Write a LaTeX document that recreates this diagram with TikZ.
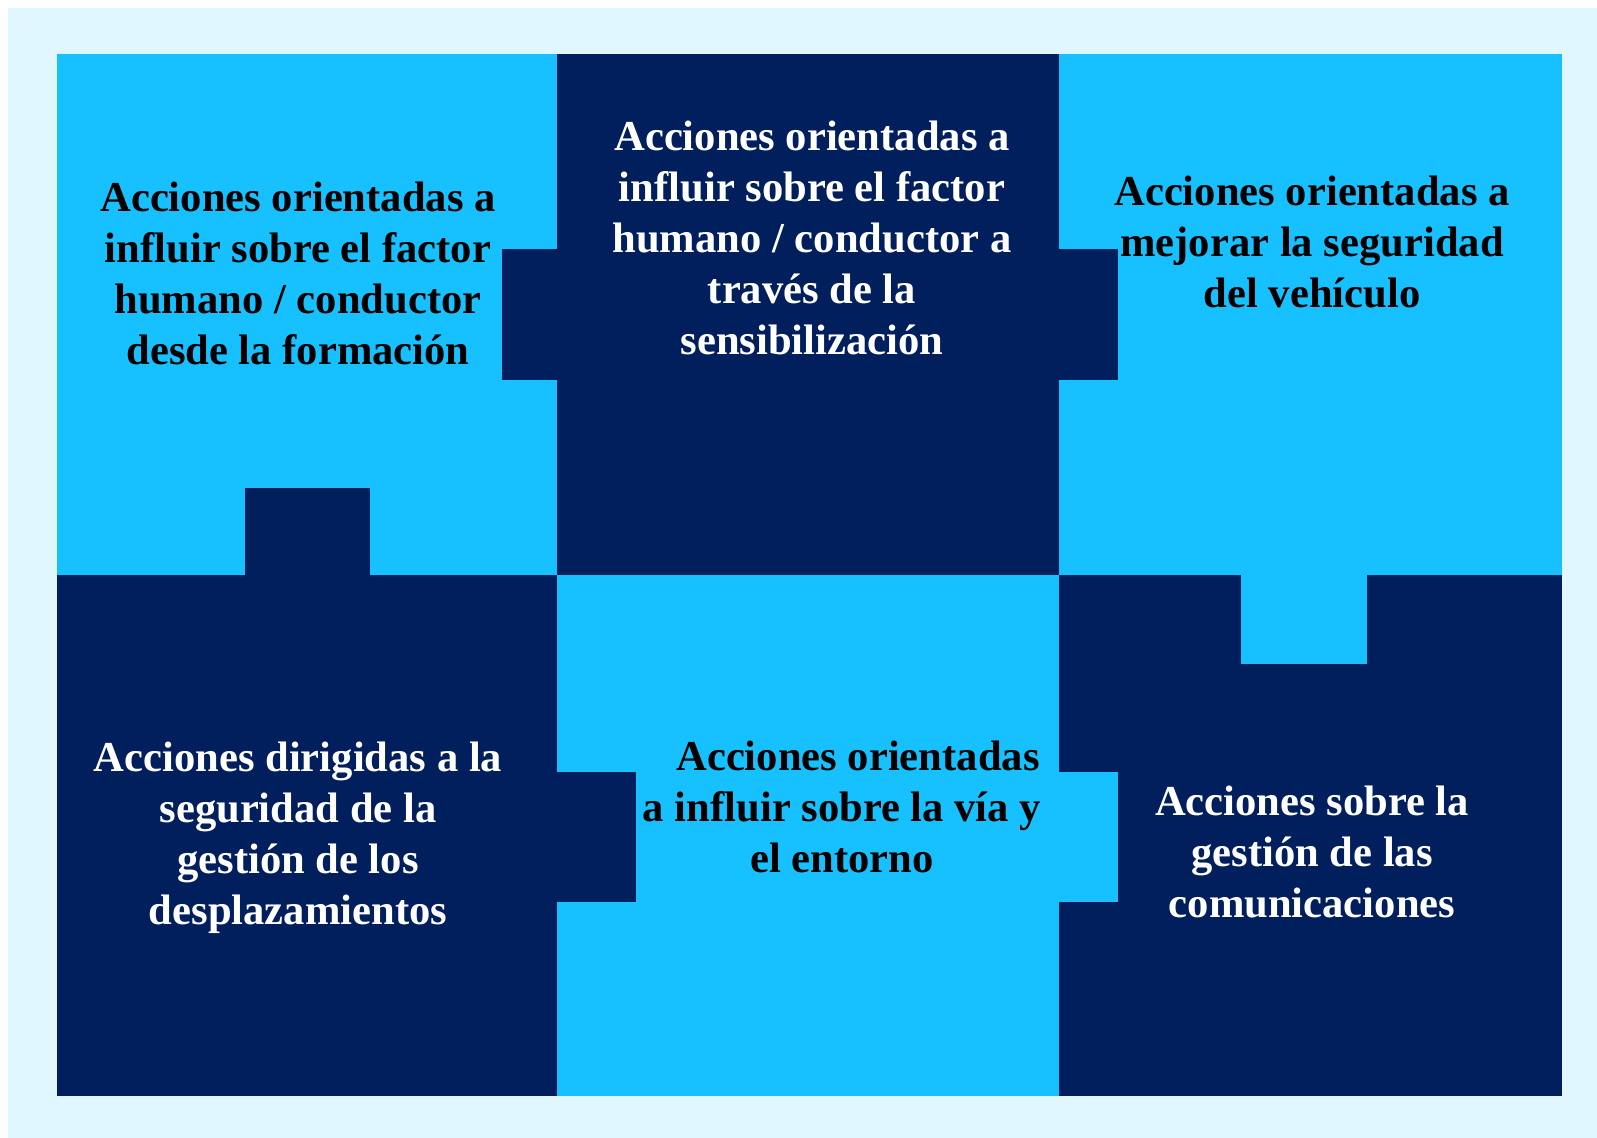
\documentclass[tikz,border=0pt]{standalone}
\usepackage{fontspec}
\setmainfont{Liberation Serif}
\usepackage{tikz}
\definecolor{BackLight}{HTML}{E0F7FF}
\definecolor{PieceLight}{HTML}{17C1FF}
\definecolor{PieceDark}{HTML}{001F5C}

\begin{document}
\begin{tikzpicture}[x=0.5pt,y=-0.5pt,
          every node/.style={font=\fontsize{21.3}{25.5}\selectfont\bfseries,
            align=center, inner sep=0pt},
          onlight/.style={text=black},
          ondark/.style={text=white}]
        \useasboundingbox (0,0) rectangle (1597,1138);
        \fill[BackLight] (8,8) rectangle (1597,1138);
        % piezas
        \fill[PieceLight] (57,54) rectangle (557,575);
        \fill[PieceDark] (557,54) rectangle (1059,575);
        \fill[PieceLight] (1059,54) rectangle (1562,575);
        \fill[PieceDark] (57,575) rectangle (557,1096);
        \fill[PieceLight] (557,575) rectangle (1059,1096);
        \fill[PieceDark] (1059,575) rectangle (1562,1096);
        % pestañas
        \fill[PieceDark] (245,488) rectangle (370,575);
        \fill[PieceDark] (502,249) rectangle (557,380);
        \fill[PieceDark] (1059,249) rectangle (1118,380);
        \fill[PieceLight] (1241,575) rectangle (1367,664);
        \fill[PieceDark] (557,772) rectangle (636,902);
        \fill[PieceLight] (1059,772) rectangle (1118,902);
        % textos
        \node[onlight] (formacion) at (298,273)
        {Acciones orientadas a\\ influir sobre el factor\\
          humano / conductor\\ desde la formación};
        \node[ondark] (sensibilizacion) at (812,238)
        {Acciones orientadas a\\ influir sobre el factor\\
          humano / conductor a\\ través de la\\ sensibilización};
        \node[onlight] (vehiculo) at (1312,242)
        {Acciones orientadas a\\ mejorar la seguridad\\ del vehículo};
        \node[ondark] (desplazamientos) at (298,838)
        {Acciones dirigidas a la\\ seguridad de la\\
          gestión de los\\ desplazamientos};
        \node[onlight] (entorno) at (842,807)
        {\hspace*{16pt}Acciones orientadas\\ a influir sobre la vía y\\ el entorno};
        \node[ondark] (comunicaciones) at (1312,852)
        {Acciones sobre la\\ gestión de las\\ comunicaciones};
      \end{tikzpicture}
\end{document}
